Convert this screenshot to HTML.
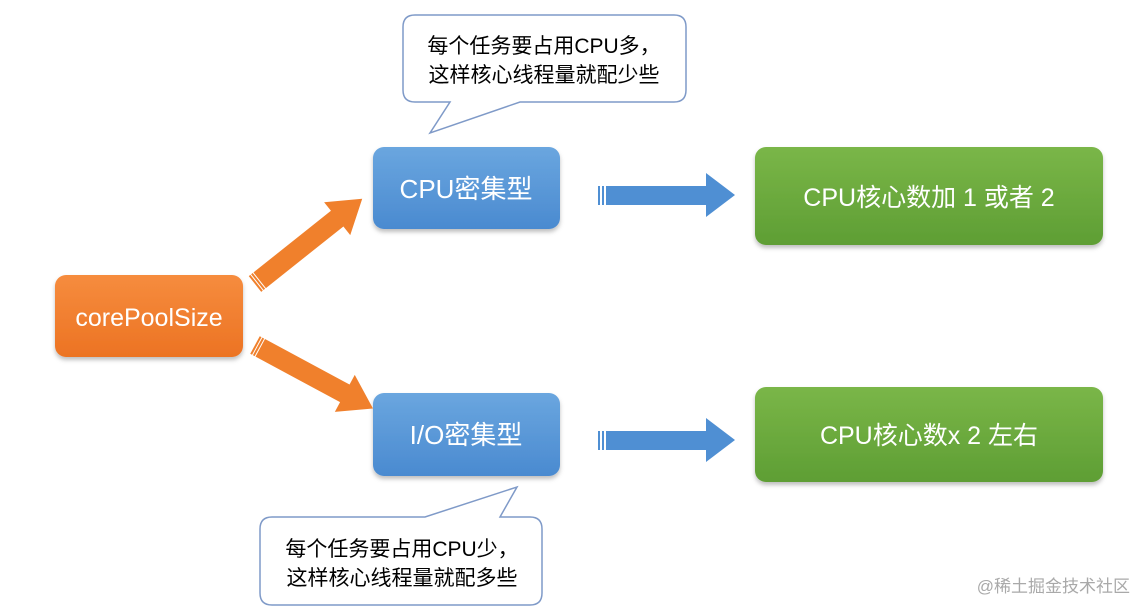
<!DOCTYPE html>
<html><head><meta charset="utf-8"><style>
html,body{margin:0;padding:0;background:#fff;}
svg{display:block;}
text{font-family:"Liberation Sans","Noto Sans CJK SC",sans-serif;}
</style></head><body>
<svg width="1147" height="615" viewBox="0 0 1147 615" xmlns="http://www.w3.org/2000/svg">
<defs>
<linearGradient id="og" x1="0" y1="0" x2="0" y2="1"><stop offset="0" stop-color="#f68c3e"/><stop offset="1" stop-color="#ec7323"/></linearGradient>
<linearGradient id="bg" x1="0" y1="0" x2="0" y2="1"><stop offset="0" stop-color="#6aa6df"/><stop offset="1" stop-color="#4a8ad0"/></linearGradient>
<linearGradient id="gg" x1="0" y1="0" x2="0" y2="1"><stop offset="0" stop-color="#7ab648"/><stop offset="1" stop-color="#5e9e34"/></linearGradient>
<filter id="sh" x="-10%" y="-10%" width="120%" height="130%"><feDropShadow dx="0" dy="3" stdDeviation="2" flood-color="#000" flood-opacity="0.25"/></filter>
</defs>

<path d="M415,15 H674 Q686,15 686,27 V90 Q686,102 674,102 H520 L430,133 L450,102 H415 Q403,102 403,90 V27 Q403,15 415,15 Z" fill="#fff" stroke="#7f9ac8" stroke-width="1.5"/>
<text x="544" y="53" font-size="21" text-anchor="middle" fill="#000">每个任务要占用CPU多，</text>
<text x="544" y="82" font-size="21" text-anchor="middle" fill="#000">这样核心线程量就配少些</text>

<path d="M272,517 H425 L517,487 L500,517 H530 Q542,517 542,529 V593 Q542,605 530,605 H272 Q260,605 260,593 V529 Q260,517 272,517 Z" fill="#fff" stroke="#7f9ac8" stroke-width="1.5"/>
<text x="402" y="556" font-size="21" text-anchor="middle" fill="#000">每个任务要占用CPU少，</text>
<text x="402" y="585" font-size="21" text-anchor="middle" fill="#000">这样核心线程量就配多些</text>

<rect x="55" y="275" width="188" height="82" rx="11" fill="url(#og)" filter="url(#sh)"/>
<text x="149" y="326" font-size="25" text-anchor="middle" fill="#fff">corePoolSize</text>

<rect x="373" y="147" width="187" height="82" rx="11" fill="url(#bg)" filter="url(#sh)"/>
<text x="466" y="198" font-size="26" text-anchor="middle" fill="#fff">CPU密集型</text>
<rect x="373" y="393" width="187" height="83" rx="11" fill="url(#bg)" filter="url(#sh)"/>
<text x="466" y="444" font-size="26" text-anchor="middle" fill="#fff">I/O密集型</text>

<rect x="755" y="147" width="348" height="98" rx="11" fill="url(#gg)" filter="url(#sh)"/>
<text x="929" y="206" font-size="25" text-anchor="middle" fill="#fff">CPU核心数加 1 或者 2</text>
<rect x="755" y="387" width="348" height="95" rx="11" fill="url(#gg)" filter="url(#sh)"/>
<text x="929" y="444" font-size="25" text-anchor="middle" fill="#fff">CPU核心数x 2 左右</text>

<g fill="#4f8fd3">
<polygon points="606,186 706,186 706,173 735,195 706,217 706,205 606,205"/>
<rect x="598" y="186" width="2" height="19"/><rect x="602" y="186" width="2" height="19"/>
<polygon points="606,431 706,431 706,418 735,440 706,462 706,450 606,450"/>
<rect x="598" y="431" width="2" height="19"/><rect x="602" y="431" width="2" height="19"/>
</g>

<g fill="#f0802c">
<g transform="translate(255,284) rotate(-38.5)">
<polygon points="6,-10 105,-10 105,-21 137,0 105,21 105,10 6,10"/>
<rect x="0" y="-10" width="2" height="20"/><rect x="3" y="-10" width="2" height="20"/>
</g>
<g transform="translate(255,345) rotate(28.3)">
<polygon points="6,-10 102,-10 102,-21 134,0 102,21 102,10 6,10"/>
<rect x="0" y="-10" width="2" height="20"/><rect x="3" y="-10" width="2" height="20"/>
</g>
</g>

<text x="1130" y="592" font-size="17" text-anchor="end" fill="#a9a9a9">@稀土掘金技术社区</text>
</svg>
</body></html>
